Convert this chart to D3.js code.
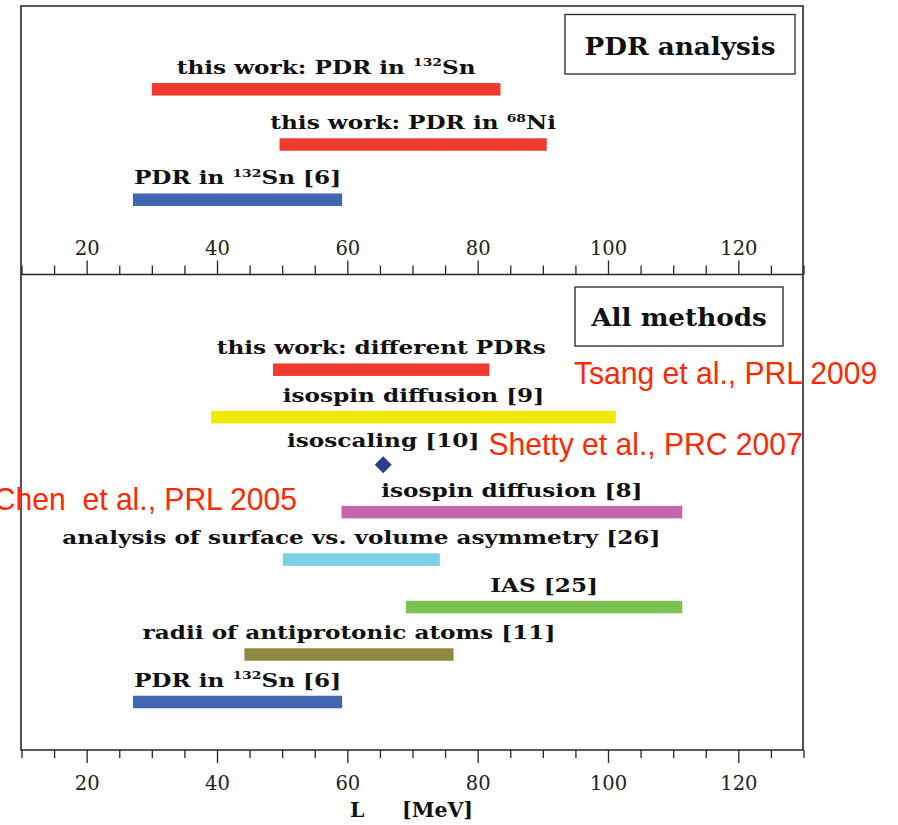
<!DOCTYPE html>
<html>
<head>
<meta charset="utf-8">
<script src="https://cdn.jsdelivr.net/npm/d3@7"></script>
<style>
  html, body { margin: 0; padding: 0; background: #fff; }
  svg { display: block; }
</style>
</head>
<body>
<script>
// ---- Data -------------------------------------------------------------
// Upper panel: constraints on L from the PDR analysis (MeV)
const pdrLabels = ["this work: PDR in ^{132}Sn", "this work: PDR in ^{68}Ni", "PDR in ^{132}Sn [6]"];
const pdrLow    = [30.0, 49.6, 27.1];
const pdrHigh   = [83.5, 90.6, 59.2];

// Lower panel: constraints on L from all methods (MeV); a single value is a point
const methodLabels = [
  "this work: different PDRs",
  "isospin diffusion [9]",
  "isoscaling [10]",
  "isospin diffusion [8]",
  "analysis of surface vs. volume asymmetry [26]",
  "IAS [25]",
  "radii of antiprotonic atoms [11]",
  "PDR in ^{132}Sn [6]"
];
const methodLow  = [48.6, 39.1, 65.5, 59.1, 50.1, 69.0, 44.2, 27.1];
const methodHigh = [81.8, 101.2, 65.5, 111.4, 74.2, 111.4, 76.3, 59.2];

const majorTicks = [20, 40, 60, 80, 100, 120];
const minorTicks = [10, 15, 25, 30, 35, 45, 50, 55, 65, 70, 75, 85, 90, 95, 105, 110, 115, 125, 130];

const panelTitles = ["PDR analysis", "All methods"];
const axisTitle = ["L", "[MeV]"];
const citations = ["Tsang et al., PRL 2009", "Shetty et al., PRC 2007", "Chen  et al., PRL 2005"];

// ---- Styles -----------------------------------------------------------
const pdrColors    = ["#EF3B2E", "#EF3B2E", "#4166B1"];
const methodColors = ["#EF3B2E", "#F1EA04", "#2E3A8A", "#C466AD", "#7BD1E3", "#7AC251", "#8F8A40", "#4166B1"];
const ink = "#262626";
const serif = "'DejaVu Serif', 'Liberation Serif', serif";
const sans = "'Liberation Sans', Arial, sans-serif";
const labelSize = 19, labelStretch = 1.22;

const W = 898, H = 825;
const svg = d3.select("body").append("svg").attr("width", W).attr("height", H);

const x = d3.scaleLinear().domain([10, 130]).range([21.5, 803.5]);
const frameL = 21, frameR = 803, frameT = 6, frameM = 274.5, frameB = 750;

const yTop = d3.scalePoint().domain(d3.range(pdrLabels.length)).range([89.3, 199.7]);
const yBot = d3.scalePoint().domain(d3.range(methodLabels.length)).range([369.7, 702]);
const barH = 12.5;

// Writes a label with ^{...} superscripts into a <text> element
function richText(text, str, fs) {
  const parts = str.split(/(\^\{[^}]*\})/).filter(s => s.length);
  const rise = fs * 0.4;
  let up = false;
  parts.forEach(p => {
    const m = p.match(/^\^\{(.*)\}$/);
    if (m) {
      text.append("tspan").attr("font-size", fs * 0.6).attr("dy", -rise).text(m[1]);
      up = true;
    } else {
      const t = text.append("tspan").text(p);
      if (up) { t.attr("dy", rise); up = false; }
    }
  });
}

function label(g, str, cx, baseline, fs, stretch) {
  const t = g.append("text")
    .attr("transform", `translate(${cx},${baseline}) scale(${stretch},1)`)
    .attr("text-anchor", "middle")
    .attr("font-family", serif)
    .attr("font-weight", "bold")
    .attr("font-size", fs)
    .attr("fill", "#111")
    .style("white-space", "pre");
  richText(t, str, fs);
  return t;
}

// ---- Frame ------------------------------------------------------------
svg.append("path")
  .attr("d", `M${frameL},${frameM}V${frameT}H${frameR}V${frameB}H${frameL}V${frameM}H${frameR}`)
  .attr("fill", "none").attr("stroke", ink).attr("stroke-width", 1.6);

// ---- Axes -------------------------------------------------------------
function styleAxis(g) {
  g.select(".domain").remove();
  g.selectAll(".tick line").attr("stroke", ink).attr("stroke-width", 1.3);
  g.selectAll(".tick text").attr("font-family", serif).attr("font-size", 19.5).attr("fill", "#222");
}
svg.append("g").attr("transform", `translate(0,${frameM})`)
  .call(d3.axisTop(x).tickValues(majorTicks).tickSize(14).tickPadding(5.5).tickFormat(d3.format("d")))
  .call(styleAxis);
svg.append("g").attr("transform", `translate(0,${frameM})`)
  .call(d3.axisTop(x).tickValues(minorTicks).tickSize(9).tickFormat(""))
  .call(styleAxis);
svg.append("g").attr("transform", `translate(0,${frameB})`)
  .call(d3.axisBottom(x).tickValues(majorTicks).tickSize(13).tickPadding(13).tickFormat(d3.format("d")))
  .call(styleAxis);
svg.append("g").attr("transform", `translate(0,${frameB})`)
  .call(d3.axisBottom(x).tickValues(minorTicks).tickSize(8).tickFormat(""))
  .call(styleAxis);

// Axis title
svg.append("text").attr("x", 350).attr("y", 817)
  .attr("font-family", serif).attr("font-weight", "bold").attr("font-size", 20.5).attr("fill", "#111")
  .text(axisTitle[0]);
svg.append("text").attr("x", 402).attr("y", 817)
  .attr("font-family", serif).attr("font-weight", "bold").attr("font-size", 20.5).attr("fill", "#111")
  .text(axisTitle[1]);

// ---- Panel title boxes -----------------------------------------------
const titleBoxes = [[565, 14.5, 795, 74, 55], [575, 287, 783, 346, 326]];
panelTitles.forEach((t, i) => {
  const [x0, y0, x1, y1, base] = titleBoxes[i];
  svg.append("rect").attr("x", x0).attr("y", y0).attr("width", x1 - x0).attr("height", y1 - y0)
    .attr("fill", "none").attr("stroke", ink).attr("stroke-width", 1.3);
  label(svg, t, (x0 + x1) / 2, base, 24.5, 1.07);
});

// ---- Bars -------------------------------------------------------------
function drawRows(labels, lo, hi, colors, y) {
  const g = svg.append("g");
  labels.forEach((lab, i) => {
    const cy = y(i);
    if (lo[i] === hi[i]) {
      const s = 8.5;
      g.append("path")
        .attr("d", `M${x(lo[i])},${cy - s}L${x(lo[i]) + s},${cy}L${x(lo[i])},${cy + s}L${x(lo[i]) - s},${cy}Z`)
        .attr("fill", colors[i]);
      label(g, lab, x(lo[i]), cy - 18, labelSize, labelStretch);
    } else {
      g.append("rect")
        .attr("x", x(lo[i])).attr("y", cy - barH / 2)
        .attr("width", x(hi[i]) - x(lo[i])).attr("height", barH)
        .attr("fill", colors[i]);
      label(g, lab, (x(lo[i]) + x(hi[i])) / 2, cy - barH / 2 - 9, labelSize, labelStretch);
    }
  });
}
drawRows(pdrLabels, pdrLow, pdrHigh, pdrColors, yTop);
drawRows(methodLabels, methodLow, methodHigh, methodColors, yBot);

// ---- Citations --------------------------------------------------------
const citeAt = [[574, 383.5, "start"], [488.5, 455, "start"], [297, 510, "end"]];
citations.forEach((c, i) => {
  const [cx, cy, anchor] = citeAt[i];
  svg.append("text")
    .attr("transform", `translate(${cx},${cy}) scale(0.94,1)`)
    .attr("text-anchor", anchor)
    .attr("font-family", sans).attr("font-size", 32)
    .attr("fill", "#FF2800")
    .style("white-space", "pre")
    .text(c);
});
</script>
</body>
</html>
